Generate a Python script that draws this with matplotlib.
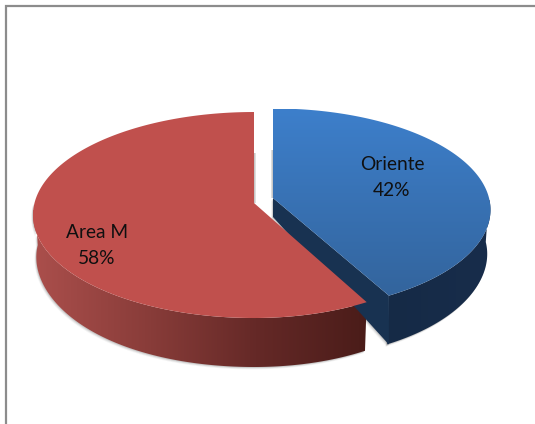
import numpy as np
import matplotlib
matplotlib.use("Agg")
import matplotlib.pyplot as plt
from matplotlib.colors import LinearSegmentedColormap
from matplotlib.patches import Polygon, Rectangle

labels = ["Oriente", "Area M"]
shares = [42, 58]

plt.rcParams["font.family"] = ["Lato", "DejaVu Sans"]

PERSP = 0.1166


def disc_point(t, cx, cy, a, b, a_right=None):
    # tilted disc seen in perspective, t runs clockwise from 12 o'clock
    w = 1 + PERSP * np.cos(t)
    s = np.sin(t)
    width = np.where(s > 0, a if a_right is None else a_right, a)
    return cx + width * s / w, cy - b * np.cos(t) / w


def side_wall(t0, t1, cx, cy, a, b, depth, drop, a_right=None, n=200):
    # outer wall: top rim plus a slightly narrower bottom rim
    t = np.linspace(t0, t1, n)
    x, y = disc_point(t, cx, cy, a, b, a_right)
    d = depth - drop * np.abs(np.sin(t)) ** 4
    xb = cx + (x - cx) * 0.985
    return np.column_stack([np.r_[x, xb[::-1]], np.r_[y, (y + d)[::-1]]])


def gradient(ax, patch, colors, extent, horizontal=True):
    cmap = LinearSegmentedColormap.from_list("g", colors)
    ramp = np.linspace(0, 1, 256)
    ramp = ramp[None, :] if horizontal else ramp[:, None]
    im = ax.imshow(ramp, cmap=cmap, extent=extent, aspect="auto", zorder=patch.get_zorder())
    patch.set_facecolor("none")
    patch.set_edgecolor("none")
    ax.add_patch(patch)
    im.set_clip_path(patch)


def soft_shadow(ax, xy, zorder):
    # few stacked offset outlines give the faint drop shadow
    for off, alpha in [(3.0, 0.06), (2.0, 0.10), (1.0, 0.16)]:
        ax.add_patch(Polygon(xy + np.array([-off * 0.6, off * 0.8]), closed=True,
                             fc="#404040", ec="none", alpha=alpha, zorder=zorder))


fig = plt.figure(figsize=(5.35, 4.24), dpi=100, facecolor="white")
ax = fig.add_axes([0, 0, 1, 1])
ax.set_xlim(0, 535)
ax.set_ylim(424, 0)
ax.axis("off")

# chart frame
ax.plot([5.5, 5.5, 535], [424, 5.8, 5.8], color="#8c8c8c", lw=1.6, solid_joinstyle="miter", zorder=1)

split = 2 * np.pi * shares[0] / sum(shares)
depth = 49

# Area M slice
rcx, rcy, ra, rb, ra_right = 254, 203, 219.5, 101.6, 210
t = np.linspace(split, 2 * np.pi, 300)
rx, ry = disc_point(t, rcx, rcy, ra, rb, ra_right)
rtop = np.column_stack([np.r_[rcx, rx], np.r_[rcy, ry]])
rside = side_wall(split, 1.5 * np.pi, rcx, rcy, ra, rb, depth, 7, ra_right)

soft_shadow(ax, rside, 2)
for w, alpha in [(2.4, 0.07), (1.6, 0.10), (0.8, 0.14)]:
    ax.add_patch(Rectangle((rcx, 153), w, rcy - 153, fc="#404040", ec="none", alpha=alpha, zorder=2))
gradient(ax, Polygon(rside, closed=True, zorder=3),
         ["#ab4f4c", "#8a3d3a", "#652927", "#4a1c19"], (33, 368, 372, 210))
ax.add_patch(Polygon(rtop, closed=True, fc="#c0504d", ec="none", zorder=4))

# Oriente slice
bcx, bcy, ba, bb = 273, 198, 216, 100
t = np.linspace(0, split, 300)
bx, by = disc_point(t, bcx, bcy, ba, bb)
btop = np.column_stack([np.r_[bcx, bx], np.r_[bcy, by]])
bside = side_wall(0.5 * np.pi, split, bcx, bcy, ba, bb, depth, 5)
tip_x, tip_y = bx[-1], by[-1]
bcut = np.array([[bcx, bcy], [tip_x, tip_y], [tip_x, tip_y + depth], [bcx, bcy + 19]])

soft_shadow(ax, bside, 2)
soft_shadow(ax, bcut, 2)
for w, alpha in [(2.4, 0.07), (1.6, 0.10), (0.8, 0.14)]:
    ax.add_patch(Rectangle((bcx - w, 150), w, bcy - 150, fc="#404040", ec="none", alpha=alpha, zorder=2))
gradient(ax, Polygon(bside, closed=True, zorder=3), ["#152a46", "#182d4b"], (385, 492, 360, 200))
ax.add_patch(Polygon(bcut, closed=True, fc="#183251", ec="none", zorder=3.5))
gradient(ax, Polygon(btop, closed=True, zorder=4), ["#3d7fcb", "#33649c"], (270, 492, 298, 109), horizontal=False)

# slice labels
for name, share, (lx, ly) in zip(labels, shares, [(392, 164), (97, 232)]):
    ax.text(lx, ly, name, ha="center", va="center", fontsize=13.8, color="#101010", zorder=6)
    ax.text(lx, ly + 26.5, f"{share}%", ha="center", va="center", fontsize=13.8, color="#101010", zorder=6)

fig.savefig("out.png", dpi=100)
